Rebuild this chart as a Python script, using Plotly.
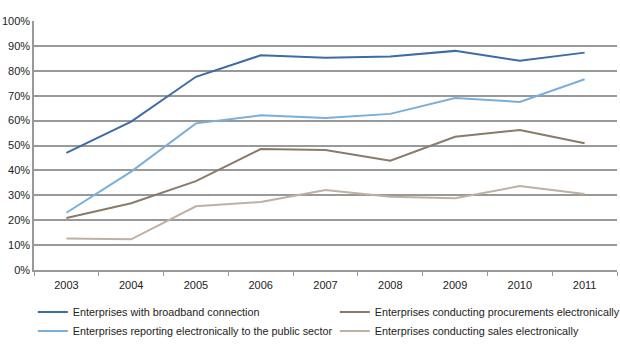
import plotly.graph_objects as go

years = ["2003", "2004", "2005", "2006", "2007", "2008", "2009", "2010", "2011"]
broadband = [47.0, 59.6, 77.6, 86.2, 85.2, 85.7, 88.0, 84.0, 87.3]
procurements = [20.9, 26.8, 35.7, 48.6, 48.2, 43.9, 53.5, 56.2, 50.9]
reporting = [23.0, 39.5, 58.9, 62.1, 61.0, 62.7, 69.1, 67.5, 76.6]
sales = [12.7, 12.3, 25.6, 27.3, 32.1, 29.4, 28.8, 33.7, 30.5]

series = [
    ("Enterprises with broadband connection", broadband, "#3D6BA5"),
    ("Enterprises conducting procurements electronically", procurements, "#8A7A69"),
    ("Enterprises reporting electronically to the public sector", reporting, "#7AAEDB"),
    ("Enterprises conducting sales electronically", sales, "#BEB0A3"),
]

fig = go.Figure()
for name, vals, col in series:
    fig.add_trace(go.Scatter(x=years, y=vals, mode="lines", name=name,
                             line=dict(color=col, width=2)))

fig.update_layout(
    width=620, height=351,
    margin=dict(l=34, r=3, t=21, b=81, autoexpand=False),
    paper_bgcolor="white", plot_bgcolor="white",
    font=dict(family="Liberation Sans, Arial, sans-serif", size=11, color="#222"),
    showlegend=True,
    legend=dict(orientation="h", x=-0.002, xanchor="left", y=-0.11, yanchor="top",
                entrywidth=257, entrywidthmode="pixels",
                font=dict(size=10.8, color="#222"), tracegroupgap=0,
                itemwidth=30),
    xaxis=dict(type="category", range=[-0.5, 8.5], tickson="boundaries",
               ticks="outside", ticklen=4, tickcolor="#999",
               showline=True, linecolor="#999", linewidth=1.5,
               showgrid=False, tickfont=dict(size=11), ticklabelstandoff=4),
    yaxis=dict(range=[0, 100], dtick=10, ticksuffix="%",
               showgrid=True, gridcolor="#999", gridwidth=1.5,
               showline=True, linecolor="#999", linewidth=1.5,
               ticks="", zeroline=False, tickfont=dict(size=11)),
)

fig.write_html("out.html")
